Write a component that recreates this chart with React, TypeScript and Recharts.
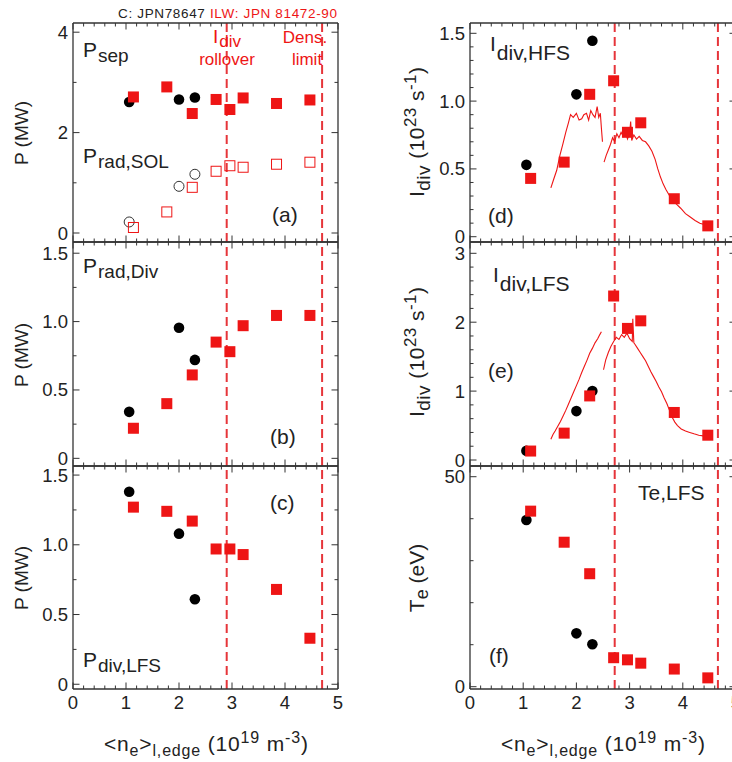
import React from "react";
import { ComposedChart, Scatter, Line, XAxis, YAxis, ReferenceLine } from "recharts";

const RED = "#ee1515";
const DASH_RED = "#e6353a";
const INK = "#222";
const FRAME = "#333";
const FONT = "'Liberation Sans', Arial, Helvetica, sans-serif";

// density axis <ne>l,edge (1e19 m^-3), shared by all six panels
const neTicks = [0, 0.2, 0.4, 0.6, 0.8, 1, 1.2, 1.4, 1.6, 1.8, 2, 2.2, 2.4, 2.6, 2.8, 3, 3.2, 3.4, 3.6, 3.8, 4, 4.2, 4.4, 4.6, 4.8, 5];
const neMajor = [0, 1, 2, 3, 4, 5];

// y ticks per panel
const ticksA = [0, 1, 2, 3, 4];
const majorA = [0, 2, 4];
const ticksBC = [0, 0.25, 0.5, 0.75, 1, 1.25, 1.5];
const majorBC = [0, 0.5, 1, 1.5];
const ticksD = [0, 0.1, 0.2, 0.3, 0.4, 0.5, 0.6, 0.7, 0.8, 0.9, 1, 1.1, 1.2, 1.3, 1.4, 1.5];
const majorD = [0, 0.5, 1, 1.5];
const ticksE = [0, 0.2, 0.4, 0.6, 0.8, 1, 1.2, 1.4, 1.6, 1.8, 2, 2.2, 2.4, 2.6, 2.8, 3];
const majorE = [0, 1, 2, 3];
const ticksF = [0, 10, 20, 30, 40, 50];
const majorF = [0, 50];

// shots: C wall (black) and ILW (red)
const cNe = [1.06, 2.0, 2.3];
const ilwNe = [1.14, 1.77, 2.25, 2.7, 2.96, 3.21, 3.84, 4.47];

// (a) power crossing separatrix / radiated in SOL, MW
const pSepC = [2.61, 2.66, 2.7];
const pSepIlw = [2.71, 2.91, 2.38, 2.66, 2.46, 2.69, 2.58, 2.65];
const pRadSolC = [0.22, 0.93, 1.17];
const pRadSolIlw = [0.11, 0.42, 0.91, 1.23, 1.34, 1.31, 1.37, 1.41];
// (b) divertor radiation
const pRadDivC = [0.34, 0.955, 0.72];
const pRadDivIlw = [0.22, 0.4, 0.61, 0.85, 0.78, 0.97, 1.045, 1.045];
// (c) power to LFS divertor
const pDivLfsC = [1.38, 1.08, 0.61];
const pDivLfsIlw = [1.27, 1.24, 1.17, 0.97, 0.97, 0.93, 0.68, 0.33];
// (d) HFS ion current, 1e23 s^-1
const iHfsC = [0.53, 1.05, 1.445];
const iHfsIlw = [0.43, 0.55, 1.05, 1.15, 0.77, 0.84, 0.28, 0.08];
// (e) LFS ion current
const iLfsC = [0.135, 0.71, 1.0];
const iLfsIlw = [0.13, 0.39, 0.93, 2.38, 1.91, 2.02, 0.69, 0.36];
// (f) LFS target Te, eV
const teC = [39.7, 12.7, 10.1];
const teIlw = [41.8, 34.4, 26.9, 6.9, 6.4, 5.6, 4.2, 2.1];

// density ramp traces (two pieces each, gap around 2.5)
const hfsRampNe1 = [1.52, 1.57, 1.63, 1.69, 1.75, 1.8, 1.85, 1.89, 1.94, 2.0, 2.05, 2.1, 2.14, 2.19, 2.23, 2.27, 2.31, 2.35, 2.39, 2.42, 2.45, 2.47, 2.49];
const hfsRampI1 = [0.36, 0.42, 0.49, 0.6, 0.69, 0.77, 0.84, 0.9, 0.88, 0.91, 0.86, 0.87, 0.9, 0.91, 0.86, 0.93, 0.9, 0.88, 0.96, 0.88, 0.91, 0.8, 0.7];
const hfsRampNe2 = [2.52, 2.56, 2.6, 2.64, 2.68, 2.72, 2.76, 2.8, 2.84, 2.88, 2.92, 2.96, 3.0, 3.02, 3.04, 3.08, 3.13, 3.18, 3.24, 3.3, 3.36, 3.42, 3.48, 3.53, 3.58, 3.63, 3.68, 3.74, 3.8, 3.88, 3.96, 4.05, 4.14, 4.23, 4.32, 4.4, 4.46];
const hfsRampI2 = [0.55, 0.6, 0.64, 0.68, 0.73, 0.7, 0.76, 0.73, 0.77, 0.74, 0.78, 0.72, 0.76, 0.85, 0.71, 0.75, 0.72, 0.74, 0.71, 0.7, 0.67, 0.63, 0.57, 0.5, 0.44, 0.39, 0.35, 0.31, 0.27, 0.24, 0.21, 0.17, 0.145, 0.12, 0.1, 0.09, 0.085];
const lfsRampNe1 = [1.52, 1.56, 1.6, 1.65, 1.7, 1.75, 1.8, 1.85, 1.9, 1.95, 2.0, 2.05, 2.1, 2.15, 2.2, 2.25, 2.3, 2.35, 2.4, 2.44, 2.47];
const lfsRampI1 = [0.3, 0.37, 0.42, 0.49, 0.56, 0.64, 0.72, 0.81, 0.9, 0.99, 1.08, 1.17, 1.27, 1.36, 1.45, 1.55, 1.62, 1.7, 1.76, 1.82, 1.86];
const lfsRampNe2 = [2.51, 2.55, 2.6, 2.65, 2.7, 2.75, 2.8, 2.85, 2.9, 2.95, 3.0, 3.05, 3.06, 3.08, 3.1, 3.15, 3.2, 3.25, 3.3, 3.35, 3.4, 3.45, 3.5, 3.55, 3.6, 3.65, 3.7, 3.75, 3.8, 3.85, 3.9, 3.97, 4.05, 4.13, 4.21, 4.3, 4.38, 4.46];
const lfsRampI2 = [1.31, 1.45, 1.56, 1.65, 1.72, 1.78, 1.75, 1.82, 1.78, 1.84, 1.76, 1.72, 2.05, 1.7, 1.68, 1.62, 1.56, 1.5, 1.44, 1.36, 1.28, 1.21, 1.14, 1.06, 0.99, 0.9, 0.82, 0.72, 0.62, 0.55, 0.5, 0.45, 0.42, 0.4, 0.38, 0.36, 0.35, 0.36];

// vertical markers: Idiv rollover and density limit
const leftLimits = [2.9, 4.7];
const rightLimits = [2.72, 4.66];

const pts = (xs: number[], ys: number[]) => xs.map((x, i) => ({ x, y: ys[i] }));
const isMajor = (arr: number[], v: number) => arr.some(a => Math.abs(a - v) < 1e-6);
const fmtInt = (v: number) => String(v);
const fmtDec = (v: number) => (v === 0 ? "0" : v.toFixed(1));

const dotFill = (p: any) => <circle cx={p.cx} cy={p.cy} r={5.3} fill="#000" />;
const dotOpen = (p: any) => <circle cx={p.cx} cy={p.cy} r={5} fill="none" stroke="#333" strokeWidth={1} />;
const sqFill = (p: any) => <rect x={p.cx - 5.5} y={p.cy - 5.5} width={11} height={11} fill={RED} />;
const sqOpen = (p: any) => <rect x={p.cx - 5} y={p.cy - 5} width={10} height={10} fill="none" stroke={RED} strokeWidth={1} />;

// inward IDL-style ticks; labels only where fmt given
function tickFn(side: string, majors: number[], fmt: ((v: number) => string) | null) {
  return (p: any) => {
    const v = p.payload.value;
    const major = isMajor(majors, v);
    const len = major ? 6.5 : 3.5;
    const { x, y } = p;
    let l = { x1: x, y1: y, x2: x, y2: y };
    if (side === "bottom") l.y2 = y - len;
    if (side === "top") l.y2 = y + len;
    if (side === "left") l.x2 = x + len;
    if (side === "right") l.x2 = x - len;
    let label = null;
    if (fmt && major) {
      if (side === "bottom")
        label = <text x={x} y={y + 20} textAnchor="middle" fontSize={18.5} fill={INK} fontFamily={FONT}>{fmt(v)}</text>;
      if (side === "left")
        label = <text x={x - 5} y={y + 6.5} textAnchor="end" fontSize={18.5} fill={INK} fontFamily={FONT}>{fmt(v)}</text>;
    }
    return (
      <g>
        <line {...l} stroke={FRAME} strokeWidth={1} />
        {label}
      </g>
    );
  };
}

// axes get a 1px band each (a zero size axis is not drawn)
const ML = 64, MR = 14, MT = 10, MB = 30;

function Panel({ x0, y0, w, h, yDomain, yTicks, yMajor, yFmt, xLabels, limits, children }: any) {
  const axisLine = { stroke: FRAME, strokeWidth: 1.3 };
  return (
    <div style={{ position: "absolute", left: x0 - ML, top: y0 - MT }}>
      <ComposedChart width={w + ML + MR} height={h + MT + MB} margin={{ top: MT - 1, right: MR - 1, bottom: MB - 1, left: ML - 1 }}>
        <XAxis type="number" dataKey="x" domain={[0, 5]} ticks={neTicks} interval={0} allowDataOverflow height={1}
          tickSize={0} tickMargin={0} tickLine={false} axisLine={axisLine} tick={tickFn("bottom", neMajor, xLabels ? fmtInt : null)} />
        <XAxis xAxisId="top" orientation="top" type="number" dataKey="x" domain={[0, 5]} ticks={neTicks} interval={0} allowDataOverflow height={1}
          tickSize={0} tickMargin={0} tickLine={false} axisLine={axisLine} tick={tickFn("top", neMajor, null)} />
        <YAxis type="number" dataKey="y" domain={yDomain} ticks={yTicks} interval={0} allowDataOverflow width={1}
          tickSize={0} tickMargin={0} tickLine={false} axisLine={axisLine} tick={tickFn("left", yMajor, yFmt)} />
        <YAxis yAxisId="r" orientation="right" type="number" dataKey="y" domain={yDomain} ticks={yTicks} interval={0} allowDataOverflow width={1}
          tickSize={0} tickMargin={0} tickLine={false} axisLine={axisLine} tick={tickFn("right", yMajor, null)} />
        {limits.map((v: number) => (
          <ReferenceLine key={v} x={v} stroke={DASH_RED} strokeWidth={2} strokeDasharray="9 5" />
        ))}
        {children}
      </ComposedChart>
    </div>
  );
}

// label with a (large) subscript
function Sub({ x, y, main, sub, size = 21, subSize = 19, fill = INK, drop = 5 }: any) {
  return (
    <text x={x} y={y} fontSize={size} fill={fill} fontFamily={FONT}>
      {main}
      <tspan dx={1} dy={drop} fontSize={subSize}>{sub}</tspan>
    </text>
  );
}

function XTitle({ cx }: { cx: number }) {
  return (
    <text x={cx - 102} y={751} fontSize={21} fill={INK} fontFamily={FONT} textLength={204} lengthAdjust="spacing">
      {"<n"}
      <tspan dy={5} fontSize={16}>e</tspan>
      <tspan dy={-5}>{">"}</tspan>
      <tspan dy={5} fontSize={16}>l,edge</tspan>
      <tspan dy={-5}> (10</tspan>
      <tspan dy={-8} fontSize={16}>19</tspan>
      <tspan dy={8}> m</tspan>
      <tspan dy={-8} fontSize={16}>-3</tspan>
      <tspan dy={8}>)</tspan>
    </text>
  );
}

function IdivTitle({ cy }: { cy: number }) {
  return (
    <text transform="rotate(-90)" x={-cy - 65} y={424} fontSize={21} fill={INK} fontFamily={FONT} textLength={130} lengthAdjust="spacing">
      I
      <tspan dy={6} fontSize={19}>div</tspan>
      <tspan dy={-6}> (10</tspan>
      <tspan dy={-8} fontSize={17}>23</tspan>
      <tspan dy={8}> s</tspan>
      <tspan dy={-8} fontSize={17}>-1</tspan>
      <tspan dy={8}>)</tspan>
    </text>
  );
}

export default function App() {
  return (
    <div style={{ position: "absolute", left: 0, top: 0, width: 732, height: 762, overflow: "hidden", background: "#fff" }}>
      {/* left column */}
      <Panel x0={73} y0={23} w={265} h={219} yDomain={[-0.179, 4.183]} yTicks={ticksA} yMajor={majorA} yFmt={fmtInt} limits={leftLimits}>
        <Scatter data={pts(cNe, pSepC)} shape={dotFill} isAnimationActive={false} />
        <Scatter data={pts(cNe, pRadSolC)} shape={dotOpen} isAnimationActive={false} />
        <Scatter data={pts(ilwNe, pSepIlw)} shape={sqFill} isAnimationActive={false} />
        <Scatter data={pts(ilwNe, pRadSolIlw)} shape={sqOpen} isAnimationActive={false} />
      </Panel>
      <Panel x0={73} y0={242} w={265} h={224} yDomain={[-0.056, 1.582]} yTicks={ticksBC} yMajor={majorBC} yFmt={fmtDec} limits={leftLimits}>
        <Scatter data={pts(cNe, pRadDivC)} shape={dotFill} isAnimationActive={false} />
        <Scatter data={pts(ilwNe, pRadDivIlw)} shape={sqFill} isAnimationActive={false} />
      </Panel>
      <Panel x0={73} y0={466} w={265} h={223} yDomain={[-0.034, 1.565]} yTicks={ticksBC} yMajor={majorBC} yFmt={fmtDec} xLabels limits={leftLimits}>
        <Scatter data={pts(cNe, pDivLfsC)} shape={dotFill} isAnimationActive={false} />
        <Scatter data={pts(ilwNe, pDivLfsIlw)} shape={sqFill} isAnimationActive={false} />
      </Panel>

      {/* right column, its right edge runs past the page */}
      <Panel x0={470} y0={23} w={266} h={219} yDomain={[-0.039, 1.576]} yTicks={ticksD} yMajor={majorD} yFmt={fmtDec} limits={rightLimits}>
        <Line data={pts(hfsRampNe1, hfsRampI1)} dataKey="y" stroke={RED} strokeWidth={1.1} dot={false} isAnimationActive={false} />
        <Line data={pts(hfsRampNe2, hfsRampI2)} dataKey="y" stroke={RED} strokeWidth={1.1} dot={false} isAnimationActive={false} />
        <Scatter data={pts(cNe, iHfsC)} shape={dotFill} isAnimationActive={false} />
        <Scatter data={pts(ilwNe, iHfsIlw)} shape={sqFill} isAnimationActive={false} />
      </Panel>
      <Panel x0={470} y0={242} w={266} h={224} yDomain={[-0.087, 3.164]} yTicks={ticksE} yMajor={majorE} yFmt={fmtInt} limits={rightLimits}>
        <Line data={pts(lfsRampNe1, lfsRampI1)} dataKey="y" stroke={RED} strokeWidth={1.1} dot={false} isAnimationActive={false} />
        <Line data={pts(lfsRampNe2, lfsRampI2)} dataKey="y" stroke={RED} strokeWidth={1.1} dot={false} isAnimationActive={false} />
        <Scatter data={pts(cNe, iLfsC)} shape={dotFill} isAnimationActive={false} />
        <Scatter data={pts(ilwNe, iLfsIlw)} shape={sqFill} isAnimationActive={false} />
      </Panel>
      <Panel x0={470} y0={466} w={266} h={223} yDomain={[-0.55, 52.55]} yTicks={ticksF} yMajor={majorF} yFmt={fmtInt} xLabels limits={rightLimits}>
        <Scatter data={pts(cNe, teC)} shape={dotFill} isAnimationActive={false} />
        <Scatter data={pts(ilwNe, teIlw)} shape={sqFill} isAnimationActive={false} />
      </Panel>

      {/* annotations */}
      <svg width={732} height={762} style={{ position: "absolute", left: 0, top: 0, pointerEvents: "none" }}>
        <text x={118} y={18} fontSize={13.5} fontFamily={FONT} textLength={219} lengthAdjust="spacing">
          <tspan fill={INK}>C: JPN78647 </tspan>
          <tspan fill={RED}>ILW: JPN 81472-90</tspan>
        </text>

        {["P (MW)", "P (MW)", "P (MW)"].map((t, i) => (
          <text key={i} transform="rotate(-90)" x={-[133, 355, 578][i]} y={28} fontSize={19} fill={INK} fontFamily={FONT} textAnchor="middle">{t}</text>
        ))}
        <IdivTitle cy={132} />
        <IdivTitle cy={352} />
        <text transform="rotate(-90)" x={-578} y={424} fontSize={21} fill={INK} fontFamily={FONT} textAnchor="middle">
          T<tspan dy={4} fontSize={18}>e</tspan><tspan dy={-4}> (eV)</tspan>
        </text>

        <XTitle cx={206} />
        <XTitle cx={603} />

        <Sub x={83} y={57} main="P" sub="sep" />
        <Sub x={83} y={163} main="P" sub="rad,SOL" />
        <text x={272} y={222} fontSize={21} fill={INK} fontFamily={FONT}>(a)</text>
        <Sub x={213} y={43} main="I" sub="div" size={19} subSize={17} fill={RED} drop={4} />
        <text x={227} y={65} fontSize={17} fill={RED} fontFamily={FONT} textAnchor="middle">rollover</text>
        <text x={305} y={43} fontSize={17} fill={RED} fontFamily={FONT} textAnchor="middle">Dens.</text>
        <text x={307} y={65} fontSize={17} fill={RED} fontFamily={FONT} textAnchor="middle">limit</text>

        <Sub x={83} y={273} main="P" sub="rad,Div" />
        <text x={270} y={444} fontSize={21} fill={INK} fontFamily={FONT}>(b)</text>

        <text x={270} y={510} fontSize={21} fill={INK} fontFamily={FONT}>(c)</text>
        <Sub x={83} y={667} main="P" sub="div,LFS" />

        <Sub x={490} y={51} main="I" sub="div,HFS" size={21} subSize={21} drop={9} />
        <text x={488} y={223} fontSize={21} fill={INK} fontFamily={FONT}>(d)</text>
        <Sub x={493} y={282} main="I" sub="div,LFS" size={21} subSize={21} drop={9} />
        <text x={488} y={378} fontSize={21} fill={INK} fontFamily={FONT}>(e)</text>
        <text x={638} y={500} fontSize={21} fill={INK} fontFamily={FONT}>Te,LFS</text>
        <text x={489} y={663} fontSize={21} fill={INK} fontFamily={FONT}>(f)</text>
      </svg>
    </div>
  );
}
